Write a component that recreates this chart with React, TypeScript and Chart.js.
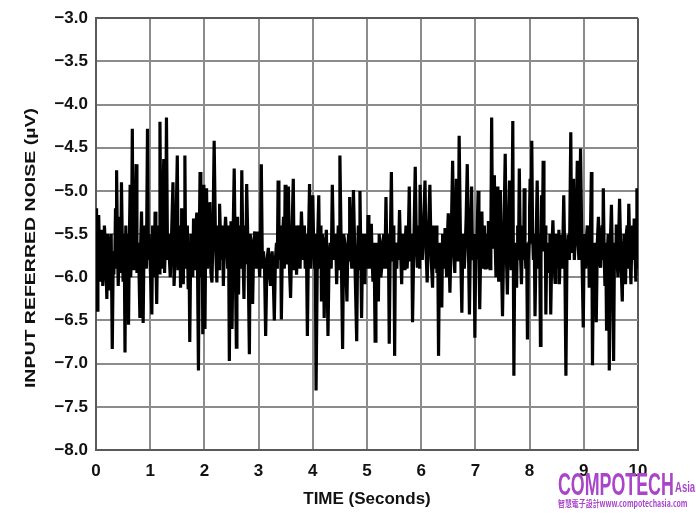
import React, { useEffect, useRef } from "react";
import { Chart, registerables } from "chart.js";

Chart.register(...registerables);

// Trace: [time (s), input referred noise (µV)]
const trace0to2: number[][] = [
  [0.00, -5.20], [0.01, -5.90], [0.02, -6.38], [0.035, -5.60], [0.05, -5.28], [0.065, -5.75], [0.08, -6.05], [0.095, -5.50],
  [0.11, -5.45], [0.125, -6.10], [0.14, -5.95], [0.155, -5.40], [0.17, -5.60], [0.185, -5.85], [0.20, -6.25], [0.215, -5.50],
  [0.23, -5.65], [0.245, -6.15], [0.26, -6.05], [0.28, -5.50], [0.30, -6.83], [0.315, -5.95], [0.33, -5.70], [0.345, -5.90],
  [0.36, -5.20], [0.37, -5.85], [0.38, -4.76], [0.395, -5.60], [0.41, -6.10], [0.425, -5.70], [0.44, -5.30], [0.455, -5.95],
  [0.47, -4.90], [0.485, -5.60], [0.50, -6.05], [0.52, -5.50], [0.535, -6.87], [0.55, -5.40], [0.56, -5.90], [0.58, -5.50],
  [0.60, -6.55], [0.615, -5.60], [0.63, -4.93], [0.64, -6.00], [0.65, -5.80], [0.66, -5.20], [0.67, -4.28], [0.685, -5.90],
  [0.70, -5.70], [0.72, -5.40], [0.74, -4.69], [0.755, -5.95], [0.77, -5.60], [0.79, -5.80], [0.81, -6.47], [0.825, -5.60],
  [0.84, -5.24], [0.855, -5.90], [0.87, -6.53], [0.89, -5.40], [0.91, -5.50], [0.93, -5.90], [0.95, -4.28], [0.965, -5.80],
  [0.98, -5.50], [1.005, -5.95], [1.03, -6.43], [1.045, -5.40], [1.06, -5.60], [1.075, -6.00], [1.09, -5.24], [1.105, -5.80],
  [1.12, -6.31], [1.135, -5.60], [1.15, -5.40], [1.165, -5.95], [1.18, -4.20], [1.195, -5.50], [1.21, -5.90], [1.23, -5.30],
  [1.25, -4.63], [1.265, -5.95], [1.28, -5.60], [1.29, -5.20], [1.30, -4.15], [1.32, -5.80], [1.34, -5.50], [1.355, -5.80],
  [1.37, -6.00], [1.395, -5.50], [1.42, -4.90], [1.44, -6.10], [1.46, -5.80], [1.48, -5.30], [1.50, -4.59], [1.515, -5.90],
  [1.53, -5.60], [1.545, -5.40], [1.56, -6.12], [1.57, -5.70], [1.58, -5.20], [1.595, -5.80], [1.61, -6.08], [1.625, -5.50],
  [1.64, -4.59], [1.655, -5.90], [1.67, -5.70], [1.685, -5.40], [1.70, -6.12], [1.715, -5.60], [1.73, -6.75], [1.75, -5.50],
  [1.77, -5.60], [1.785, -6.00], [1.80, -5.32], [1.815, -5.60], [1.83, -5.90], [1.845, -5.40], [1.86, -5.25], [1.875, -6.00],
  [1.89, -7.08], [1.905, -5.60], [1.92, -4.78], [1.935, -6.00], [1.95, -5.70], [1.96, -5.30], [1.97, -6.66], [1.98, -5.60],
  [1.99, -4.93],
];

const trace2to4: number[][] = [
  [2.00, -5.90], [2.01, -6.60], [2.025, -5.50], [2.04, -4.97], [2.055, -5.90], [2.07, -5.80], [2.085, -5.40], [2.10, -5.13],
  [2.12, -5.95], [2.14, -6.06], [2.16, -5.40], [2.18, -4.42], [2.205, -5.60], [2.23, -6.06], [2.245, -5.40], [2.26, -5.50],
  [2.27, -5.90], [2.28, -5.15], [2.30, -5.60], [2.32, -5.80], [2.335, -5.40], [2.35, -6.10], [2.37, -5.60], [2.39, -5.30],
  [2.41, -5.55], [2.43, -5.90], [2.445, -5.40], [2.46, -6.97], [2.475, -5.80], [2.49, -5.35], [2.50, -5.90], [2.51, -6.60],
  [2.53, -5.50], [2.55, -4.74], [2.57, -5.80], [2.59, -6.81], [2.60, -5.70], [2.61, -5.30], [2.62, -5.80], [2.63, -6.20],
  [2.645, -5.40], [2.66, -5.60], [2.675, -5.90], [2.69, -4.76], [2.71, -5.70], [2.73, -6.25], [2.74, -5.70], [2.75, -5.40],
  [2.765, -5.85], [2.78, -4.92], [2.805, -5.70], [2.83, -6.89], [2.845, -5.50], [2.86, -5.60], [2.875, -5.90], [2.89, -6.31],
  [2.91, -5.60], [2.93, -5.47], [2.945, -5.75], [2.96, -5.90], [2.975, -5.60], [2.99, -5.47], [3.005, -5.80], [3.02, -6.00],
  [3.035, -5.60], [3.05, -4.69], [3.07, -5.90], [3.09, -5.70], [3.11, -5.90], [3.13, -6.68], [3.155, -5.80], [3.18, -5.66],
  [3.20, -5.95], [3.22, -6.10], [3.235, -5.80], [3.25, -5.70], [3.27, -6.00], [3.29, -6.50], [3.31, -5.80], [3.33, -5.60],
  [3.345, -5.90], [3.36, -4.88], [3.375, -5.60], [3.39, -5.80], [3.405, -5.40], [3.42, -6.49], [3.44, -5.60], [3.46, -5.30],
  [3.475, -5.90], [3.49, -4.93], [3.505, -5.60], [3.52, -5.85], [3.535, -5.40], [3.55, -4.95], [3.57, -5.90], [3.59, -6.24],
  [3.615, -5.50], [3.64, -4.86], [3.655, -5.90], [3.67, -5.60], [3.685, -5.40], [3.70, -5.97], [3.72, -5.60], [3.74, -5.40],
  [3.765, -5.90], [3.79, -5.24], [3.81, -5.60], [3.83, -5.80], [3.845, -5.40], [3.86, -5.90], [3.88, -5.50], [3.90, -6.68],
  [3.92, -5.60], [3.94, -4.92], [3.955, -5.90], [3.97, -5.70], [3.985, -5.40],
];

const trace4to6: number[][] = [
  [4.00, -5.05], [4.015, -5.60], [4.03, -5.90], [4.045, -5.50], [4.06, -7.31], [4.085, -5.70], [4.11, -5.05], [4.125, -5.90],
  [4.14, -5.70], [4.15, -5.40], [4.16, -6.28], [4.175, -5.50], [4.19, -5.60], [4.20, -5.90], [4.21, -6.47], [4.23, -5.70],
  [4.25, -5.45], [4.265, -6.00], [4.28, -6.68], [4.30, -5.80], [4.32, -5.60], [4.34, -5.90], [4.36, -4.93], [4.38, -5.60],
  [4.40, -5.80], [4.42, -5.50], [4.44, -6.08], [4.455, -5.70], [4.47, -5.40], [4.485, -5.90], [4.50, -4.59], [4.525, -5.70],
  [4.55, -6.83], [4.57, -5.50], [4.59, -5.60], [4.61, -5.90], [4.63, -6.28], [4.645, -5.70], [4.66, -5.50], [4.67, -5.80],
  [4.68, -5.07], [4.70, -5.70], [4.72, -5.90], [4.735, -5.50], [4.75, -4.99], [4.78, -5.90], [4.81, -6.74], [4.825, -5.80],
  [4.84, -5.40], [4.855, -5.90], [4.87, -5.00], [4.885, -5.70], [4.90, -6.47], [4.915, -5.80], [4.93, -5.50], [4.945, -5.80],
  [4.96, -6.08], [4.975, -5.50], [4.99, -5.60], [5.005, -5.90], [5.02, -5.28], [5.035, -5.70], [5.05, -5.90], [5.065, -5.50],
  [5.08, -5.38], [5.095, -5.80], [5.11, -6.05], [5.13, -5.60], [5.15, -6.74], [5.165, -5.60], [5.18, -5.70], [5.195, -5.90],
  [5.21, -6.28], [5.225, -5.50], [5.24, -5.65], [5.255, -6.00], [5.27, -5.90], [5.29, -5.60], [5.31, -5.50], [5.33, -5.90],
  [5.35, -5.07], [5.365, -5.70], [5.38, -5.90], [5.395, -5.50], [5.41, -6.77], [5.43, -5.60], [5.45, -4.78], [5.465, -5.70],
  [5.48, -5.80], [5.495, -5.40], [5.51, -6.91], [5.525, -5.60], [5.54, -5.70], [5.55, -5.90], [5.56, -5.60], [5.58, -5.80],
  [5.60, -5.22], [5.62, -5.70], [5.64, -6.08], [5.655, -5.50], [5.67, -5.60], [5.685, -5.90], [5.70, -5.65], [5.72, -5.40],
  [5.74, -5.90], [5.76, -5.60], [5.78, -4.95], [5.795, -5.80], [5.81, -5.70], [5.825, -5.50], [5.84, -6.52], [5.865, -5.60],
  [5.89, -4.72], [5.91, -5.60], [5.93, -5.89], [5.945, -5.40], [5.96, -5.50], [5.97, -5.90], [5.98, -4.93],
];

const trace6to8: number[][] = [
  [6.00, -5.60], [6.02, -5.80], [6.045, -5.40], [6.07, -4.88], [6.09, -5.70], [6.11, -6.06], [6.135, -5.50], [6.16, -4.93],
  [6.185, -5.80], [6.21, -6.12], [6.225, -5.40], [6.24, -5.60], [6.25, -5.90], [6.26, -5.60], [6.275, -5.40], [6.29, -5.95],
  [6.305, -5.60], [6.32, -6.91], [6.335, -5.80], [6.35, -5.60], [6.365, -5.90], [6.38, -6.35], [6.395, -5.50], [6.41, -5.60],
  [6.425, -5.90], [6.44, -5.43], [6.455, -5.80], [6.47, -6.00], [6.485, -5.50], [6.50, -5.26], [6.515, -5.80], [6.53, -6.18],
  [6.555, -5.50], [6.58, -4.65], [6.60, -5.70], [6.62, -5.95], [6.635, -5.40], [6.65, -4.86], [6.665, -5.60], [6.68, -5.80],
  [6.69, -5.30], [6.70, -4.36], [6.725, -5.60], [6.75, -6.41], [6.765, -5.70], [6.78, -5.50], [6.795, -5.90], [6.81, -5.70],
  [6.83, -5.30], [6.85, -4.69], [6.87, -5.60], [6.89, -6.43], [6.91, -5.50], [6.93, -4.95], [6.945, -5.70], [6.96, -5.80],
  [6.975, -5.50], [6.99, -6.70], [7.005, -5.80], [7.02, -5.70], [7.035, -5.40], [7.05, -5.00], [7.065, -5.70], [7.08, -6.37],
  [7.10, -5.60], [7.12, -5.24], [7.135, -5.90], [7.15, -5.70], [7.165, -5.40], [7.18, -5.89], [7.195, -5.60], [7.21, -5.50],
  [7.225, -5.90], [7.24, -5.35], [7.255, -5.70], [7.27, -5.90], [7.285, -5.50], [7.30, -4.15], [7.315, -5.50], [7.33, -5.65],
  [7.34, -5.30], [7.35, -4.82], [7.365, -5.60], [7.38, -6.00], [7.39, -5.50], [7.40, -4.95], [7.415, -5.70], [7.43, -6.05],
  [7.445, -5.60], [7.46, -4.99], [7.48, -5.80], [7.50, -6.45], [7.525, -5.50], [7.55, -4.57], [7.57, -5.70], [7.59, -6.20],
  [7.61, -5.50], [7.63, -4.88], [7.645, -5.60], [7.66, -5.90], [7.675, -5.40], [7.69, -4.19], [7.70, -5.80], [7.71, -7.14],
  [7.725, -5.80], [7.74, -5.60], [7.75, -5.90], [7.76, -6.12], [7.77, -5.70], [7.78, -5.40], [7.795, -5.80], [7.81, -4.74],
  [7.83, -5.70], [7.85, -6.08], [7.865, -5.60], [7.88, -5.40], [7.89, -5.80], [7.90, -4.97], [7.915, -5.60], [7.93, -5.90],
  [7.945, -5.60], [7.96, -6.72], [7.975, -5.80], [7.99, -5.60],
];

const trace8to10: number[][] = [
  [8.00, -5.20], [8.01, -4.86], [8.025, -5.60], [8.04, -4.42], [8.055, -5.50], [8.07, -5.80], [8.085, -5.50], [8.10, -6.45],
  [8.12, -5.60], [8.14, -4.88], [8.155, -5.60], [8.17, -5.90], [8.185, -5.50], [8.20, -6.79], [8.21, -5.80], [8.22, -5.05],
  [8.235, -5.70], [8.25, -4.65], [8.265, -5.50], [8.28, -5.70], [8.29, -5.40], [8.30, -6.43], [8.315, -5.70], [8.33, -5.60],
  [8.345, -5.95], [8.36, -5.80], [8.375, -5.50], [8.39, -6.43], [8.41, -5.70], [8.43, -5.34], [8.45, -5.80], [8.47, -6.06],
  [8.485, -5.50], [8.50, -5.60], [8.515, -5.90], [8.53, -5.75], [8.54, -5.45], [8.55, -6.08], [8.565, -5.70], [8.58, -5.51],
  [8.605, -5.90], [8.63, -5.05], [8.65, -5.80], [8.67, -7.14], [8.69, -5.70], [8.71, -5.51], [8.735, -5.80], [8.76, -4.32],
  [8.775, -5.60], [8.79, -5.70], [8.80, -5.30], [8.81, -4.86], [8.825, -5.80], [8.84, -5.60], [8.86, -5.40], [8.88, -4.65],
  [8.895, -5.60], [8.91, -5.80], [8.925, -5.40], [8.94, -4.51], [8.965, -5.70], [8.99, -6.58], [9.005, -5.70], [9.02, -5.50],
  [9.035, -5.90], [9.05, -5.55], [9.065, -5.40], [9.08, -5.80], [9.09, -5.50], [9.10, -6.12], [9.12, -5.60], [9.14, -4.78],
  [9.15, -5.70], [9.16, -7.02], [9.18, -5.70], [9.20, -5.60], [9.215, -5.90], [9.23, -6.52], [9.25, -5.60], [9.27, -5.30],
  [9.29, -5.80], [9.31, -5.89], [9.325, -5.50], [9.34, -5.40], [9.35, -5.80], [9.36, -4.97], [9.375, -5.70], [9.39, -6.10],
  [9.405, -5.60], [9.42, -6.62], [9.435, -5.70], [9.45, -5.50], [9.46, -5.90], [9.47, -7.08], [9.49, -5.60], [9.51, -5.16],
  [9.53, -5.90], [9.55, -6.97], [9.565, -5.70], [9.58, -5.60], [9.59, -5.90], [9.60, -5.39], [9.615, -5.80], [9.63, -6.00],
  [9.645, -5.50], [9.66, -5.09], [9.685, -5.80], [9.71, -6.28], [9.725, -5.60], [9.74, -5.50], [9.755, -5.80], [9.77, -6.08],
  [9.785, -5.50], [9.80, -5.40], [9.815, -5.90], [9.83, -5.15], [9.85, -5.70], [9.87, -6.08], [9.885, -5.60], [9.90, -5.40],
  [9.915, -5.80], [9.93, -5.32], [9.945, -5.70], [9.96, -6.05], [9.97, -5.50], [9.98, -4.97], [9.99, -5.50], [10.00, -5.90],
];

const yTickValues = [-3.0, -3.5, -4.0, -4.5, -5.0, -5.5, -6.0, -6.5, -7.0, -7.5, -8.0];
const xTickValues = [0, 1, 2, 3, 4, 5, 6, 7, 8, 9, 10];

const xTitle = "TIME (Seconds)";
const yTitle = "INPUT REFERRED NOISE (\u00B5V)";

const FONT = "'Liberation Sans', Arial, Helvetica, sans-serif";

// Draws the (horizontally stretched) rotated y-axis title as canvas text
const yTitlePlugin = {
  id: "yTitleStretched",
  afterDraw(chart: any) {
    const { ctx, chartArea } = chart;
    ctx.save();
    ctx.font = `bold 15px ${FONT}`;
    const w = ctx.measureText(yTitle).width;
    const targetLen = 280;
    ctx.translate(31, (chartArea.top + chartArea.bottom) / 2 + 14);
    ctx.rotate(-Math.PI / 2);
    ctx.scale(targetLen / w, 1);
    ctx.fillStyle = "#111";
    ctx.textAlign = "center";
    ctx.textBaseline = "middle";
    ctx.fillText(yTitle, 0, 0);
    ctx.restore();
  },
};

export default function App() {
  const ref = useRef<HTMLCanvasElement>(null);

  useEffect(() => {
    if (!ref.current) return;
    const all = [...trace0to2, ...trace2to4, ...trace4to6, ...trace6to8, ...trace8to10];
    const points = all.map(([t, v]) => ({ x: t, y: v }));
    const tickFont = { family: FONT, size: 17, weight: "bold" as const };
    const chart = new Chart(ref.current, {
      type: "line",
      data: {
        datasets: [
          {
            data: points,
            borderColor: "#000000",
            borderWidth: 3.2,
            pointRadius: 0,
            tension: 0,
            fill: false,
          },
        ],
      },
      options: {
        animation: false,
        responsive: false,
        events: [],
        layout: { padding: { top: 15, right: 58, bottom: 0, left: 0 } },
        plugins: { legend: { display: false }, tooltip: { enabled: false } },
        scales: {
          x: {
            type: "linear",
            min: 0,
            max: 10,
            afterFit: (s: any) => {
              s.height = 65;
            },
            afterBuildTicks: (s: any) => {
              s.ticks = xTickValues.map((v) => ({ value: v }));
            },
            ticks: {
              font: tickFont,
              color: "#111",
              padding: 11,
              maxRotation: 0,
              autoSkip: false,
              callback: (v: any) => String(v),
            },
            grid: {
              color: (c: any) => (c.tick && c.tick.value === 10 ? "#5a5a5a" : "#8c8c8c"),
              lineWidth: 2,
              drawTicks: false,
            },
            border: { color: "#5a5a5a", width: 2 },
            title: {
              display: true,
              text: xTitle,
              color: "#111",
              font: { family: FONT, size: 17, weight: "bold" },
              padding: { top: 0, bottom: 5 },
            },
          },
          y: {
            type: "linear",
            min: -8,
            max: -3,
            afterFit: (s: any) => {
              s.width = 96;
            },
            afterBuildTicks: (s: any) => {
              s.ticks = yTickValues.map((v) => ({ value: v }));
            },
            ticks: {
              font: tickFont,
              color: "#111",
              padding: 8,
              autoSkip: false,
              callback: (v: any) => "\u2212" + Math.abs(Number(v)).toFixed(1),
            },
            grid: {
              color: (c: any) => (c.tick && c.tick.value === -3 ? "#5a5a5a" : "#8c8c8c"),
              lineWidth: 2,
              drawTicks: false,
            },
            border: { color: "#5a5a5a", width: 2 },
            title: { display: false },
          },
        },
      },
      plugins: [yTitlePlugin],
    });
    return () => chart.destroy();
  }, []);

  return (
    <div style={{ position: "fixed", left: 0, top: 0, width: 696, height: 515, background: "#fff" }}>
      <canvas ref={ref} width={696} height={515} style={{ display: "block" }} />
      <div
        style={{
          position: "absolute",
          left: 558,
          top: 469,
          fontFamily: FONT,
          fontWeight: "bold",
          fontSize: 31,
          lineHeight: "31px",
          color: "#a845c8",
          transform: "scaleX(0.575)",
          transformOrigin: "left top",
          whiteSpace: "nowrap",
        }}
      >
        COMPOTECH
      </div>
      <div
        style={{
          position: "absolute",
          left: 675,
          top: 479,
          fontFamily: FONT,
          fontWeight: "bold",
          fontSize: 14,
          lineHeight: "16px",
          color: "#a845c8",
          transform: "scaleX(0.68)",
          transformOrigin: "left top",
          whiteSpace: "nowrap",
        }}
      >
        Asia
      </div>
      <div
        style={{
          position: "absolute",
          left: 558,
          top: 498,
          fontFamily: "'Noto Sans CJK TC', 'Noto Sans', sans-serif",
          fontWeight: "bold",
          fontSize: 9,
          lineHeight: "11px",
          color: "#a845c8",
          transform: "scaleX(0.77)",
          transformOrigin: "left top",
          whiteSpace: "nowrap",
        }}
      >
        智慧電子設計www.compotechasia.com
      </div>
    </div>
  );
}
